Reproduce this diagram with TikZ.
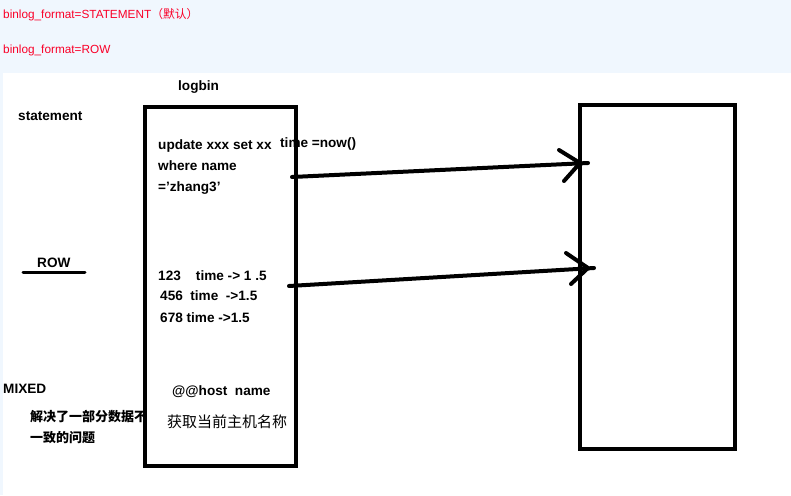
\documentclass[tikz,border=0pt]{standalone}
\usepackage{fontspec}
\setmainfont{Liberation Sans}
\newfontfamily\cjk{Noto Sans CJK SC}
\definecolor{bandblue}{RGB}{240,247,254}
\definecolor{redtxt}{RGB}{250,0,40}
\begin{document}
\begin{tikzpicture}[x=1pt,y=-1pt,
  lbl/.style={anchor=base west,inner sep=0pt,font=\fontsize{13.6}{15}\selectfont\bfseries},
  redlbl/.style={anchor=base west,inner sep=0pt,text=redtxt,font=\fontsize{11.8}{13}\selectfont},
  cjklbl/.style={anchor=base west,inner sep=0pt,font=\fontsize{13}{15}\selectfont\cjk\bfseries},
  boxline/.style={draw=black,line width=4.5pt},
  arrline/.style={draw=black,line width=4pt,line cap=round,line join=round}]
\useasboundingbox (0,0) rectangle (791,495);
\fill[white] (0,0) rectangle (791,495);
\fill[bandblue] (0,0) rectangle (791,73);
\fill[bandblue] (0,73) rectangle (3,495);
% header texts
\node[redlbl] (h1) at (3,19) {binlog\_format=STATEMENT{\cjk（默认）}};
\node[redlbl] (h2) at (3,53) {binlog\_format=ROW};
% boxes
\draw[boxline] (145,107) rectangle (296,466);
\draw[boxline,line width=4pt] (580,104.5) rectangle (735,449);
% labels
\node[lbl] (logbin) at (178,90) {logbin};
\node[lbl] (stmt) at (18,120) {statement};
\node[lbl] (u1) at (158,149) {update xxx set xx};
\node[lbl] (u2) at (280,147) {time =now()};
\node[lbl] (u3) at (158,170) {where name};
\node[lbl] (u4) at (158,191) {='zhang3'};
\node[lbl] (row) at (37,267) {ROW};
\coordinate (rowa) at (23,272);
\coordinate (rowb) at (85,272);
\draw[draw=black,line width=3pt,line cap=round] (rowa) -- (rowb);
\node[lbl] (r1) at (158,280) {123\ \ \ \ time -> 1 .5};
\node[lbl] (r2) at (160,300) {456\ \ time\ \ ->1.5};
\node[lbl] (r3) at (160,322) {678\ time ->1.5};
\node[lbl] (mixed) at (3,393) {MIXED};
\node[cjklbl] (m1) at (30,421) {解决了一部分数据不};
\node[cjklbl] (m2) at (30,442) {一致的问题};
\node[lbl] (host) at (172,395) {@@host\ \ name};
\node[anchor=base west,inner sep=0pt,font=\fontsize{15}{17}\selectfont\cjk] (hostcn) at (167,427) {获取当前主机名称};
% arrows
\coordinate (a1s) at (292,177);
\coordinate (a1e) at (588,163);
\coordinate (a1t) at (559,150);
\coordinate (a1v) at (580,163);
\coordinate (a1b) at (564,181);
\draw[arrline] (a1s) -- (a1e);
\draw[arrline] (a1t) -- (a1v) -- (a1b);
\coordinate (a2s) at (289,286);
\coordinate (a2e) at (594,268);
\coordinate (a2t) at (566,253);
\coordinate (a2v) at (588,268);
\coordinate (a2b) at (571,284);
\draw[arrline] (a2s) -- (a2e);
\draw[arrline] (a2t) -- (a2v) -- (a2b);
\end{tikzpicture}
\end{document}
